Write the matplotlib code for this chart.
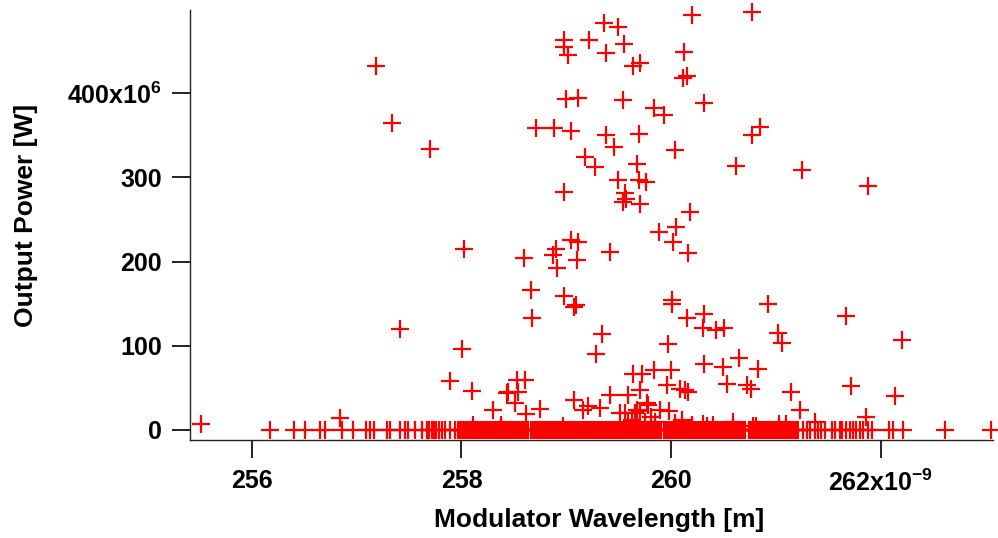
import matplotlib
matplotlib.use("Agg")
import matplotlib.pyplot as plt

plt.rcParams['font.family'] = ['Liberation Sans', 'DejaVu Sans']
plt.rcParams['font.weight'] = 'bold'
plt.rcParams['mathtext.fontset'] = 'custom'
plt.rcParams['mathtext.rm'] = 'Liberation Sans:bold'
plt.rcParams['mathtext.default'] = 'rm'

# ---- data (wavelength in nm, output power in MW) ----
# points clearly above the zero band
scatter_wl = [
    257.19, 257.34, 257.70, 257.41, 258.02, 258.01, 257.89, 258.10, 258.30, 258.44, 256.84, 255.52,
    258.60, 258.66, 258.67, 258.90, 258.91, 258.87, 259.04, 259.11, 259.10, 258.98, 259.07, 259.09,
    259.42, 259.34, 259.28, 259.88, 260.05, 260.02, 260.16, 260.01, 260.01, 260.15, 260.31, 260.30,
    260.43, 260.50, 259.97, 260.31,
    258.53, 258.61, 258.54, 258.43, 258.51, 258.75, 258.62,
    259.07, 259.21, 259.32, 259.42, 259.59, 259.64, 259.72, 259.70, 259.84, 260.00, 259.96, 260.08,
    260.16, 259.77, 259.67, 259.51, 259.16,
    259.36, 259.49, 258.98, 258.98, 259.02, 259.22, 259.38, 259.55, 259.64, 259.70, 260.20, 260.12,
    260.11, 260.15, 260.31, 259.00, 259.11, 259.54, 259.84, 259.93, 258.71, 258.88, 259.04, 259.38,
    259.69, 259.45, 260.04, 259.18, 259.27, 259.67, 259.49, 259.76, 259.69, 259.56, 259.54, 259.70,
    259.57, 258.98, 260.18,
    260.77, 260.77, 260.85, 260.62, 261.25, 261.88, 260.92, 261.67, 262.20, 261.02, 261.06, 260.49,
    260.53, 260.65, 260.83, 260.72, 260.76, 261.14, 261.23, 261.71, 262.13, 261.86,
    259.78, 259.70, 259.89, 259.98, 259.65, 259.56, 260.13,
]
scatter_pw = [
    433, 365, 334, 120, 215, 96, 58, 46, 24, 45, 14, 7,
    204, 166, 133, 215, 193, 208, 226, 223, 202, 159, 146, 148,
    211, 114, 90, 235, 241, 223, 210, 154, 150, 133, 138, 121,
    119, 121, 102, 78,
    59, 59, 45, 44, 32, 25, 19,
    36, 28, 26, 41, 41, 67, 67, 47, 71, 71, 53, 49,
    45, 32, 24, 20, 24,
    483, 479, 463, 455, 446, 463, 448, 459, 433, 436, 493, 449,
    418, 421, 389, 393, 395, 392, 383, 374, 359, 359, 355, 350,
    352, 336, 333, 324, 312, 316, 297, 295, 297, 281, 271, 269,
    275, 283, 259,
    497, 350, 360, 314, 309, 290, 150, 136, 107, 115, 103, 75,
    55, 86, 73, 53, 49, 45, 24, 52, 40, 15,
    30, 22, 24, 22, 20, 20, 47,
]

# small but non-zero powers just above the band
low_wl = [258.11, 258.38, 258.97, 259.59, 259.63, 259.75, 259.81, 259.85, 260.04, 260.10,
          260.20, 260.30, 260.34, 260.40, 260.59, 260.78, 260.81, 261.03, 261.09, 261.37]
low_pw = [6, 6, 5, 8, 12, 10, 15, 9, 8, 12,
          6, 7, 5, 6, 10, 5, 5, 7, 7, 10]

# points sitting at (nearly) zero power
zero_wl = [
    256.17, 256.40, 256.51, 256.65, 256.70, 256.86, 256.97, 257.09, 257.13, 257.17,
    257.29, 257.32, 257.41, 257.46, 257.49, 257.56, 257.62, 257.67, 257.69, 257.72,
    257.74, 257.76, 257.79, 257.81, 257.84, 257.89, 257.94,
    257.970, 257.985, 258.000, 258.015, 258.030, 258.045, 258.060, 258.075, 258.090, 258.105,
    258.120, 258.135, 258.150, 258.165, 258.180, 258.195, 258.210, 258.225, 258.240, 258.255,
    258.270, 258.285, 258.300, 258.315, 258.330, 258.345, 258.360, 258.375, 258.390, 258.405,
    258.420, 258.435, 258.450, 258.465, 258.480, 258.495, 258.510, 258.525, 258.540, 258.555,
    258.570, 258.585, 258.600, 258.615, 258.630, 258.660, 258.675, 258.690, 258.705, 258.720,
    258.735, 258.750, 258.765, 258.780, 258.795, 258.810, 258.825, 258.840, 258.855, 258.870,
    258.885, 258.900, 258.915, 258.930, 258.945, 258.960, 258.975, 258.990, 259.005, 259.020,
    259.035, 259.050, 259.065, 259.080, 259.095, 259.110, 259.125, 259.140, 259.155, 259.170,
    259.185, 259.200, 259.215, 259.230, 259.245, 259.260, 259.275, 259.290, 259.305, 259.320,
    259.335, 259.350, 259.365, 259.380, 259.395, 259.410, 259.425, 259.440, 259.455, 259.470,
    259.485, 259.500, 259.515, 259.530, 259.545, 259.560, 259.575, 259.590, 259.605, 259.620,
    259.635, 259.650, 259.665, 259.680, 259.695, 259.710, 259.725, 259.740, 259.755, 259.770,
    259.785, 259.800, 259.815, 259.830, 259.845, 259.860, 259.875, 259.890, 259.905, 259.935,
    259.950, 259.965, 259.980, 259.995, 260.010, 260.025, 260.040, 260.055, 260.070, 260.085,
    260.100, 260.115, 260.130, 260.145, 260.160, 260.175, 260.190, 260.205, 260.220, 260.235,
    260.250, 260.265, 260.280, 260.295, 260.310, 260.325, 260.340, 260.355, 260.370, 260.385,
    260.400, 260.415, 260.430, 260.445, 260.460, 260.475, 260.490, 260.505, 260.520, 260.535,
    260.550, 260.565, 260.580, 260.595, 260.610, 260.625, 260.640, 260.655, 260.670, 260.685,
    260.700, 260.740, 260.755, 260.770, 260.785, 260.800, 260.815, 260.830, 260.845, 260.860,
    260.875, 260.890, 260.905, 260.920, 260.935, 260.950, 260.965, 260.980, 260.995, 261.010,
    261.025, 261.040, 261.055, 261.070, 261.085, 261.100, 261.115, 261.130, 261.145, 261.160,
    261.175, 261.190, 261.205,
    261.26, 261.29, 261.32, 261.37, 261.40, 261.43, 261.47, 261.53, 261.56, 261.61,
    261.63, 261.67, 261.70, 261.73, 261.76, 261.80, 261.83, 261.88, 261.91, 262.08,
    262.11, 262.21, 262.61, 263.05,
]
zero_pw = [
    0, 0, 0, 0, 0, 0, 0, 0, 0, 0,
    0, 0, 0, 0, 0, 0, 0, 0, 0, 0,
    0, 0, 0, 0, 0, 0, 0,
    0, 0, 0, 0, 0, 0, 0, 0, 0, 0,
    0, 0, 0, 0, 0, 0, 0, 0, 0, 0,
    0, 0, 0, 0, 0, 0, 0, 0, 0, 0,
    0, 0, 0, 0, 0, 0, 0, 0, 0, 0,
    0, 0, 0, 0, 0, 0, 0, 0, 0, 0,
    0, 0, 0, 0, 0, 0, 0, 0, 0, 0,
    0, 0, 0, 0, 0, 0, 0, 0, 0, 0,
    0, 0, 0, 0, 0, 0, 0, 0, 0, 0,
    0, 0, 0, 0, 0, 0, 0, 0, 0, 0,
    0, 0, 0, 0, 0, 0, 0, 0, 0, 0,
    0, 0, 0, 0, 0, 0, 0, 0, 0, 0,
    0, 0, 0, 0, 0, 0, 0, 0, 0, 0,
    0, 0, 0, 0, 0, 0, 0, 0, 0, 0,
    0, 0, 0, 0, 0, 0, 0, 0, 0, 0,
    0, 0, 0, 0, 0, 0, 0, 0, 0, 0,
    0, 0, 0, 0, 0, 0, 0, 0, 0, 0,
    0, 0, 0, 0, 0, 0, 0, 0, 0, 0,
    0, 0, 0, 0, 0, 0, 0, 0, 0, 0,
    0, 0, 0, 0, 0, 0, 0, 0, 0, 0,
    0, 0, 0, 0, 0, 0, 0, 0, 0, 0,
    0, 0, 0, 0, 0, 0, 0, 0, 0, 0,
    0, 0, 0,
    0, 0, 0, 0, 0, 0, 0, 0, 0, 0,
    0, 0, 0, 0, 0, 0, 0, 0, 0, 0,
    0, 0, 0, 0,
]

x_ticks = [256, 258, 260, 262]
x_ticklabels = ['256', '258', '260', '262x10$^{-9}$']
y_ticks = [0, 100, 200, 300, 400]
y_ticklabels = ['0', '100', '200', '300', '400x10$^{6}$']

fig = plt.figure(figsize=(9.98, 5.38), dpi=100)
ax = fig.add_axes([190 / 998, 1 - 440 / 538, 803 / 998, 430 / 538])

all_wl = zero_wl + low_wl + scatter_wl
all_pw = zero_pw + low_pw + scatter_pw
ax.plot(all_wl, all_pw, linestyle='none', marker='+',
        markersize=13, markeredgewidth=1.6, color='#ff0000', clip_on=False)

ax.set_xlim(255.412, 263.068)
ax.set_ylim(-11.9, 499)

for s in ['top', 'right']:
    ax.spines[s].set_visible(False)
for s in ['left', 'bottom']:
    ax.spines[s].set_linewidth(1.0)
    ax.spines[s].set_color('#222222')

ax.set_xticks(x_ticks)
ax.set_xticklabels(x_ticklabels)
ax.set_yticks(y_ticks)
ax.set_yticklabels(y_ticklabels)
ax.tick_params(axis='both', direction='out', length=13, width=1.4, color='#222222',
               labelsize=18)
ax.tick_params(axis='x', pad=8)
ax.tick_params(axis='y', pad=7)
for lab in ax.get_xticklabels() + ax.get_yticklabels():
    lab.set_fontweight('bold')

ax.set_xlabel('Modulator Wavelength [m]', fontsize=19, fontweight='bold')
ax.set_ylabel('Output Power [W]', fontsize=19, fontweight='bold')
ax.xaxis.set_label_coords(0.509, -0.158)
ax.yaxis.set_label_coords(-0.189, 0.523)

fig.savefig('out.png', dpi=100)
